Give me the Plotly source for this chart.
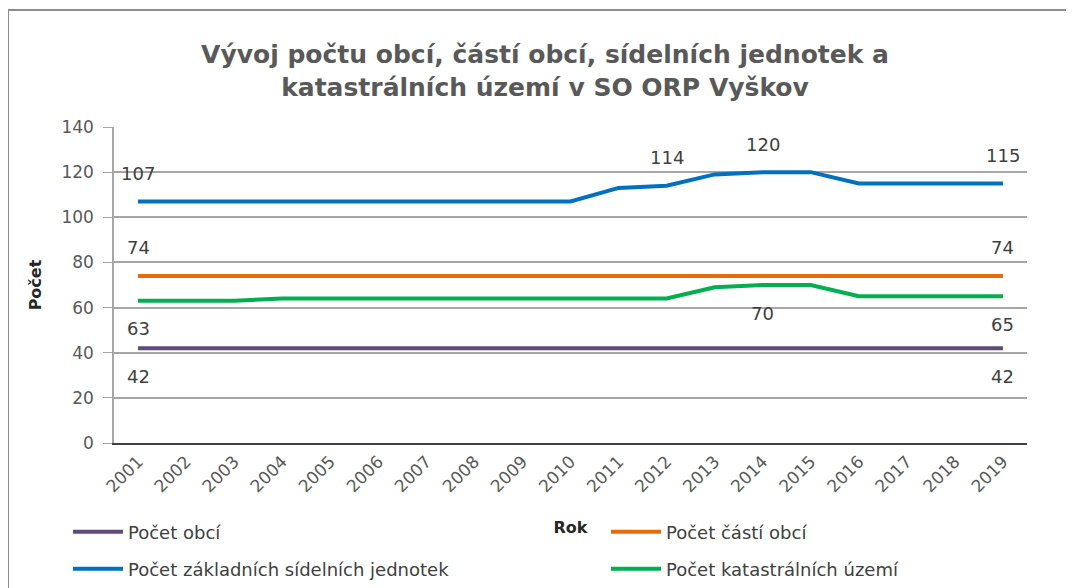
import plotly.graph_objects as go

years = [str(y) for y in range(2001, 2020)]
pocet_obci = [42] * 19
pocet_casti_obci = [74] * 19
pocet_zsj = [107, 107, 107, 107, 107, 107, 107, 107, 107, 107, 113, 114, 119, 120, 120, 115, 115, 115, 115]
pocet_ku = [63, 63, 63, 64, 64, 64, 64, 64, 64, 64, 64, 64, 69, 70, 70, 65, 65, 65, 65]

series_names = ["Počet obcí", "Počet částí obcí", "Počet základních sídelních jednotek", "Počet katastrálních území"]
series_values = [pocet_obci, pocet_casti_obci, pocet_zsj, pocet_ku]
series_colors = ["#604a7b", "#e46c0a", "#0070c0", "#00b050"]
series_legend = ["legend", "legend2", "legend3", "legend4"]

# which points get a data label, and whether above (+1) or below (-1)
label_points = [
    (["2001", "2019"], -1),
    (["2001", "2019"], 1),
    (["2001", "2012", "2014", "2019"], 1),
    (["2001", "2014", "2019"], -1),
]

FONT = "DejaVu Sans"
# screen-pixel reference geometry (page body adds 8px offset)
OFF = 8
PL, PR, PT, PB = 114, 1027, 127, 443
W, H = 1074, 588
PW, PH = PR - PL, PB - PT


def px(x):
    return (x - PL) / PW


def py(y):
    return (PB - y) / PH


fig = go.Figure()
for name, vals, col, lg in zip(series_names, series_values, series_colors, series_legend):
    fig.add_trace(go.Scatter(x=years, y=vals, mode="lines", name=name, showlegend=True,
                             line=dict(color=col, width=4), legend=lg))

annotations = []
for vals, (pts, side) in zip(series_values, label_points):
    for p in pts:
        i = years.index(p)
        v = vals[i]
        annotations.append(dict(x=i, y=v, xref="x", yref="y", text=str(v), showarrow=False,
                                yshift=28 * side, font=dict(family=FONT, size=18, color="#404040")))

leg_common = dict(orientation="h", xanchor="left", yanchor="middle", itemwidth=50,
                  font=dict(family=FONT, size=18, color="#404040"), bgcolor="rgba(0,0,0,0)")

fig.update_layout(
    width=W, height=H, showlegend=True,
    margin=dict(l=PL - OFF, r=W - (PR - OFF), t=PT - OFF, b=H - (PB - OFF), autoexpand=False),
    paper_bgcolor="white", plot_bgcolor="white",
    title=dict(text="<b>Vývoj počtu obcí, částí obcí, sídelních jednotek a<br>katastrálních území v SO ORP Vyškov</b>",
               x=(545 - OFF) / W, xanchor="center", y=1 - (63 - OFF) / H, yanchor="top",
               font=dict(family=FONT, size=25, color="#595959")),
    font=dict(family=FONT, color="#595959"),
    xaxis=dict(type="category", range=[-0.5, 18.5], tickangle=-45,
               tickfont=dict(family=FONT, size=17, color="#595959"),
               showgrid=False, showline=True, linecolor="#404040", linewidth=2,
               ticks="", automargin=False,
               title=dict(text="<b>Rok</b>", font=dict(family=FONT, size=16, color="#262626"), standoff=26)),
    yaxis=dict(range=[0, 140], dtick=20, tickfont=dict(family=FONT, size=17, color="#595959"),
               showgrid=True, gridcolor="#a6a6a6", gridwidth=1.5, zeroline=False,
               showline=True, linecolor="#a6a6a6", linewidth=1.5,
               ticks="outside", ticklen=9, tickcolor="#a6a6a6", ticklabelstandoff=6, automargin=False,
               title=dict(text="<b>Počet</b>", font=dict(family=FONT, size=16, color="#262626"), standoff=16)),
    legend=dict(x=px(68), y=py(532), **leg_common),
    legend2=dict(x=px(606), y=py(532), **leg_common),
    legend3=dict(x=px(68), y=py(569), **leg_common),
    legend4=dict(x=px(606), y=py(569), **leg_common),
    annotations=annotations,
    shapes=[dict(type="rect", xref="paper", yref="paper",
                 x0=px(8), x1=px(1090), y0=py(600), y1=py(10),
                 line=dict(color="#8c8c8c", width=2), layer="below")],
)

fig.write_html("out.html")
